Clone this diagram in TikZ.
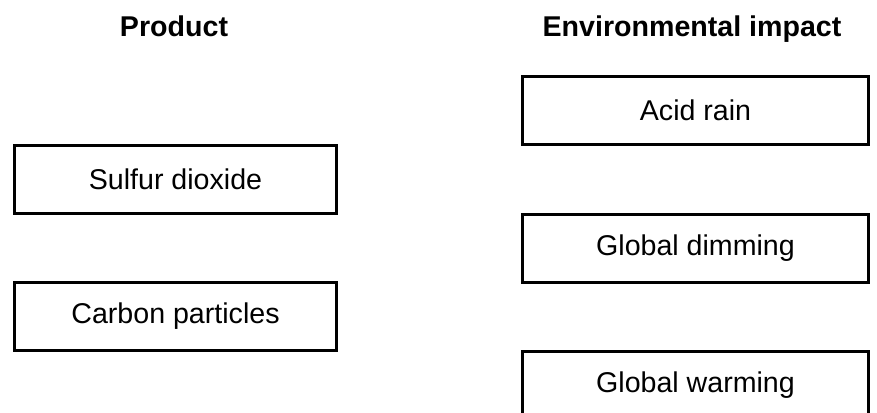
\documentclass[tikz,border=0pt]{standalone}
\usepackage{fontspec}
\setmainfont{Liberation Sans}
\begin{document}
\begin{tikzpicture}[x=1pt,y=-1pt,
  box/.style={draw=black,line width=3pt,minimum width=322pt,minimum height=68pt,inner sep=0pt,font=\fontsize{28.6}{30}\selectfont,anchor=north west},
  rbox/.style={box,minimum width=346pt},
  head/.style={font=\bfseries\fontsize{28.6}{30}\selectfont,anchor=base}]
\useasboundingbox (0,0) rectangle (877,412);
\begin{scope}
\clip (0,0) rectangle (877,412);
\node[head] (hp) at (174,36.5) {Product};
\node[head] (he) at (692,36.5) {Environmental impact};
\node[box] (so2) at (13,143.5) {Sulfur dioxide};
\node[box] (cp) at (13,280.5) {Carbon particles};
\node[rbox] (ar) at (521,75) {Acid rain};
\node[rbox] (gd) at (521,212.5) {Global dimming};
\node[rbox] (gw) at (521,349.5) {Global warming};
\end{scope}
\end{tikzpicture}
\end{document}
